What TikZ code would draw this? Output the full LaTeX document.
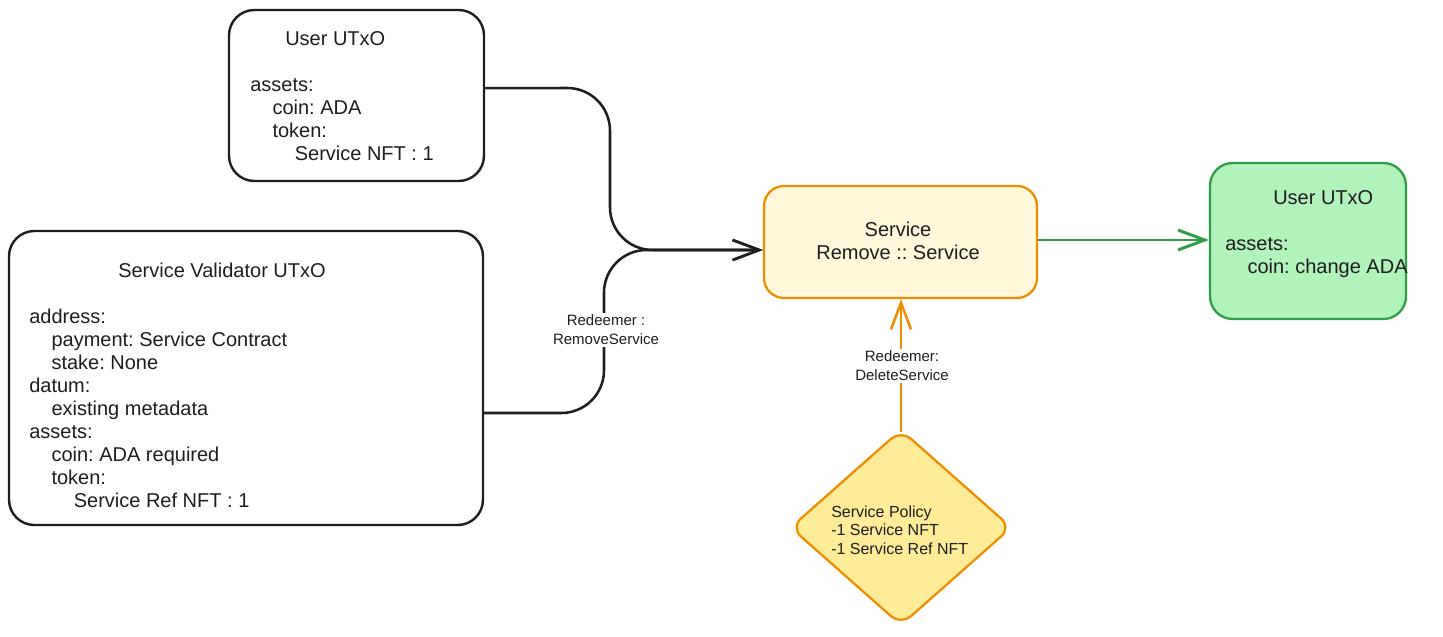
\documentclass[tikz,border=0pt]{standalone}
\usepackage{fontspec}
\setmainfont{Liberation Sans}
\usetikzlibrary{arrows.meta,shapes.geometric}
\definecolor{ink}{HTML}{1E1E1E}
\definecolor{orng}{HTML}{F08C00}
\definecolor{paleyel}{HTML}{FFF8DB}
\definecolor{yel}{HTML}{FFEC99}
\definecolor{grn}{HTML}{2F9E44}
\definecolor{lgrn}{HTML}{B2F2BB}
\newcommand\myind{\hspace*{16.7pt}}
\tikzset{
  txt/.style={inner sep=0pt, anchor=base west, align=left, text=ink, font=\fontsize{15}{17.25}\selectfont},
  box/.style={draw=ink, line width=1.8pt, rounded corners=19pt, inner sep=0pt},
  conn/.style={line width=1.9pt, -{Straight Barb[length=20pt,width=15pt]}},
  lbl/.style={fill=white, inner sep=1.5pt, align=center, text=ink, font=\fontsize{11.25}{14.25}\selectfont}
}
\begin{document}
\frenchspacing
\begin{tikzpicture}[x=0.75pt,y=-0.75pt]
\useasboundingbox (0,0) rectangle (1443,636);
% boxes
\node[box, minimum width=191.25pt, minimum height=128.25pt] (user) at (356.5,95.5) {};
\node[box, minimum width=355.5pt, minimum height=220.5pt] (val) at (246,378) {};
\node[draw=orng, fill=paleyel, line width=1.7pt, rounded corners=15pt, inner sep=0pt,
      minimum width=204.75pt, minimum height=84pt] (svc) at (900.5,242) {};
\node[draw=grn, fill=lgrn, line width=1.7pt, rounded corners=17pt, inner sep=0pt,
      minimum width=147pt, minimum height=117pt] (out) at (1308,241) {};
\node[diamond, draw=orng, fill=yel, line width=1.7pt, rounded corners=10pt, inner sep=0pt,
      minimum width=166pt, minimum height=147pt] (pol) at (901,527.5) {};
% connectors
\draw[conn, draw=ink, rounded corners=32pt] ([yshift=5.6pt]user.east) -- (610,88) -- (610,250) -- ([yshift=-6pt]svc.west);
\draw[conn, draw=ink, rounded corners=32pt] ([yshift=-26.25pt]val.east) -- (604,413) -- (604,250) -- ([yshift=-6pt]svc.west);
\draw[conn, draw=grn, line width=2.2pt] ([yshift=1.5pt]svc.east) -- ([yshift=1.5pt]svc.east -| out.west);
\draw[conn, draw=orng] ([yshift=-3pt]pol.north) -- (pol.north |- svc.south);
% labels
\node[lbl] (l1) at (606,330) {Redeemer :\\RemoveService};
\node[lbl] (l2) at (902,366) {Redeemer:\\DeleteService};
% texts (anchored at the baseline of their last line)
\node[txt] (usertxt) at (250,160) {\hspace*{26.25pt}User UTxO\\[17.25pt]assets:\\\myind coin: ADA\\\myind token:\\\myind\myind Service NFT : 1};
\node[txt] (valtxt) at (29,507) {\hspace*{66.75pt}Service Validator UTxO\\[17.25pt]address:\\\myind payment: Service Contract\\\myind stake: None\\datum:\\\myind existing metadata\\assets:\\\myind coin: ADA required\\\myind token:\\\myind\myind Service Ref NFT : 1};
\node[txt, anchor=base, align=center] (svctxt) at (898,259) {Service\\Remove :: Service};
\node[txt] (outtxt) at (1225,273) {\hspace*{36pt}User UTxO\\[17.25pt]assets:\\\myind coin: change ADA};
\node[txt, font=\fontsize{12}{13.8}\selectfont] (poltxt) at (831,554) {Service Policy\\-1 Service NFT\\-1 Service Ref NFT};
\end{tikzpicture}
\end{document}
